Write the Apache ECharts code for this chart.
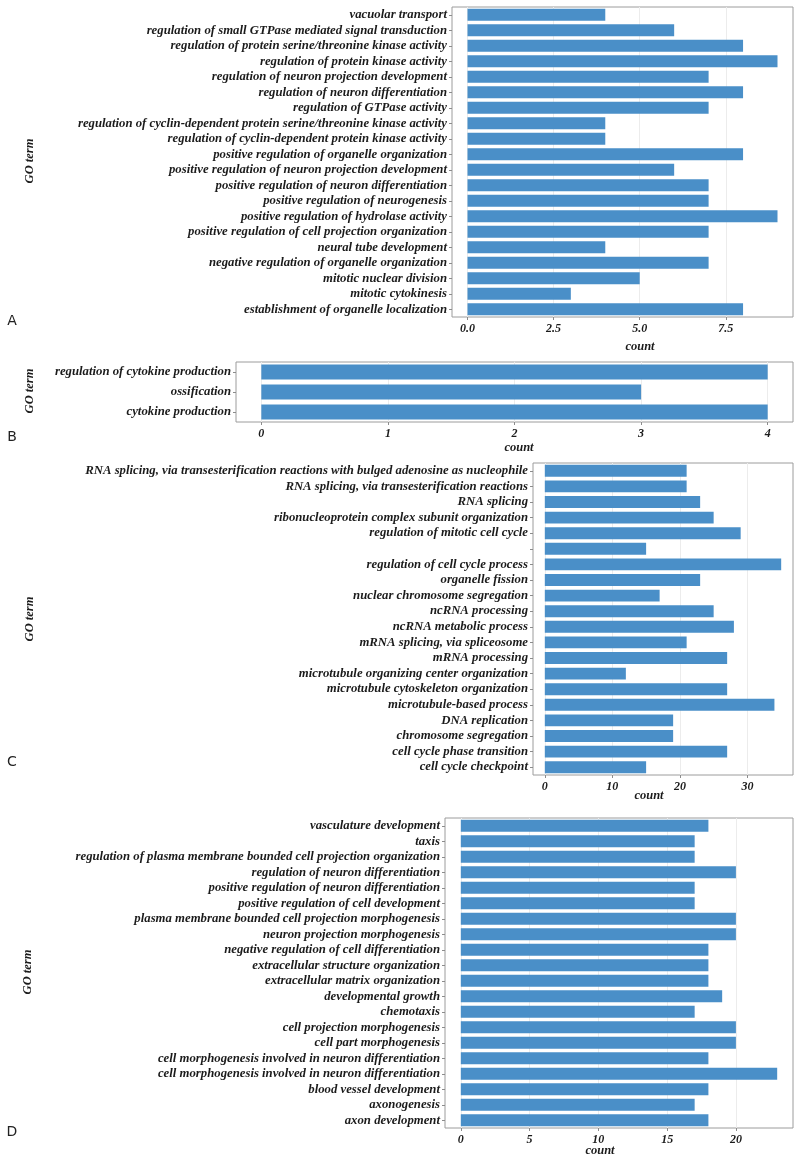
<!DOCTYPE html>
<html><head><meta charset="utf-8">
<script src="https://cdn.jsdelivr.net/npm/echarts@6/dist/echarts.min.js"></script>
<style>html,body{margin:0;padding:0;background:#fff}#c{width:800px;height:1155px}</style>
</head><body><div id="c"></div>
<script>
// ---------- data ----------
const termsA = [
  'vacuolar transport',
  'regulation of small GTPase mediated signal transduction',
  'regulation of protein serine/threonine kinase activity',
  'regulation of protein kinase activity',
  'regulation of neuron projection development',
  'regulation of neuron differentiation',
  'regulation of GTPase activity',
  'regulation of cyclin-dependent protein serine/threonine kinase activity',
  'regulation of cyclin-dependent protein kinase activity',
  'positive regulation of organelle organization',
  'positive regulation of neuron projection development',
  'positive regulation of neuron differentiation',
  'positive regulation of neurogenesis',
  'positive regulation of hydrolase activity',
  'positive regulation of cell projection organization',
  'neural tube development',
  'negative regulation of organelle organization',
  'mitotic nuclear division',
  'mitotic cytokinesis',
  'establishment of organelle localization'
];
const countsA = [4, 6, 8, 9, 7, 8, 7, 4, 4, 8, 6, 7, 7, 9, 7, 4, 7, 5, 3, 8];
const ticksA = [0, 2.5, 5, 7.5];

const termsB = ['regulation of cytokine production', 'ossification', 'cytokine production'];
const countsB = [4, 3, 4];
const ticksB = [0, 1, 2, 3, 4];

const termsC = [
  'RNA splicing, via transesterification reactions with bulged adenosine as nucleophile',
  'RNA splicing, via transesterification reactions',
  'RNA splicing',
  'ribonucleoprotein complex subunit organization',
  'regulation of mitotic cell cycle',
  '',
  'regulation of cell cycle process',
  'organelle fission',
  'nuclear chromosome segregation',
  'ncRNA processing',
  'ncRNA metabolic process',
  'mRNA splicing, via spliceosome',
  'mRNA processing',
  'microtubule organizing center organization',
  'microtubule cytoskeleton organization',
  'microtubule-based process',
  'DNA replication',
  'chromosome segregation',
  'cell cycle phase transition',
  'cell cycle checkpoint'
];
const countsC = [21, 21, 23, 25, 29, 15, 35, 23, 17, 25, 28, 21, 27, 12, 27, 34, 19, 19, 27, 15];
const ticksC = [0, 10, 20, 30];

const termsD = [
  'vasculature development',
  'taxis',
  'regulation of plasma membrane bounded cell projection organization',
  'regulation of neuron differentiation',
  'positive regulation of neuron differentiation',
  'positive regulation of cell development',
  'plasma membrane bounded cell projection morphogenesis',
  'neuron projection morphogenesis',
  'negative regulation of cell differentiation',
  'extracellular structure organization',
  'extracellular matrix organization',
  'developmental growth',
  'chemotaxis',
  'cell projection morphogenesis',
  'cell part morphogenesis',
  'cell morphogenesis involved in neuron differentiation',
  'cell morphogenesis involved in neuron differentiation',
  'blood vessel development',
  'axonogenesis',
  'axon development'
];
const countsD = [18, 17, 17, 20, 17, 17, 20, 20, 18, 18, 18, 19, 17, 20, 20, 18, 23, 18, 17, 18];
const ticksD = [0, 5, 10, 15, 20];

const panelLetters = ['A', 'B', 'C', 'D'];
const yTitle = 'GO term';
const xTitle = 'count';

// ---------- layout ----------
const layout = [
  { terms: termsA, counts: countsA, ticks: ticksA, dec: 1, grid: {left: 452, top: 7, width: 341, height: 310}, range: [-0.45, 9.45], letter: [12, 321], go: [30, 161], cnt: [640, 347] },
  { terms: termsB, counts: countsB, ticks: ticksB, dec: 0, grid: {left: 236, top: 362, width: 557, height: 60}, range: [-0.2, 4.2], letter: [12, 437], go: [30, 391], cnt: [519, 448] },
  { terms: termsC, counts: countsC, ticks: ticksC, dec: 0, grid: {left: 533, top: 463, width: 260, height: 312}, range: [-1.75, 36.75], letter: [12, 762], go: [30, 619], cnt: [649, 796] },
  { terms: termsD, counts: countsD, ticks: ticksD, dec: 0, grid: {left: 445, top: 818, width: 348, height: 310}, range: [-1.15, 24.15], letter: [12, 1132], go: [28, 972], cnt: [600, 1151] }
];

const serif = '"Liberation Serif", "Times New Roman", serif';
const txtColor = '#1b1b1b';
const barColor = '#4a8fc8';

const grids = [], xAxes = [], yAxes = [], series = [], graphics = [];
layout.forEach((p, i) => {
  grids.push(Object.assign({ show: true, borderColor: '#9c9c9c', borderWidth: 1, backgroundColor: '#fff', outerBoundsMode: 'none', containLabel: false }, p.grid));
  xAxes.push({
    type: 'value', gridIndex: i, min: p.range[0], max: p.range[1],
    axisLine: { show: false, onZero: false },
    axisTick: { show: true, length: 3, lineStyle: { color: '#8c8c8c' }, customValues: p.ticks },
    axisLabel: { show: true, margin: 6, customValues: p.ticks, formatter: v => Number(v).toFixed(p.dec),
      fontFamily: serif, fontStyle: 'italic', fontWeight: 'bold', fontSize: 12, color: txtColor },
    splitLine: { show: true, lineStyle: { color: '#ececec', width: 1 } }
  });
  yAxes.push({
    type: 'category', gridIndex: i, inverse: true,
    data: p.terms.map((_, k) => String(k)),
    axisLine: { show: false, onZero: false },
    axisTick: { show: true, alignWithLabel: true, length: 3, lineStyle: { color: '#8c8c8c' } },
    axisLabel: { show: true, interval: 0, margin: 5, formatter: v => p.terms[+v],
      fontFamily: serif, fontStyle: 'italic', fontWeight: 'bold', fontSize: 12.75, color: txtColor },
    splitLine: { show: false }
  });
  series.push({
    type: 'bar', xAxisIndex: i, yAxisIndex: i, data: p.counts,
    barCategoryGap: '24%', itemStyle: { color: barColor }, silent: true
  });
  graphics.push({ type: 'text', x: p.letter[0], y: p.letter[1],
    style: { text: panelLetters[i], font: '14px "DejaVu Sans", sans-serif', fill: '#222', textAlign: 'center', textVerticalAlign: 'middle' } });
  graphics.push({ type: 'text', x: p.go[0], y: p.go[1], rotation: Math.PI / 2,
    style: { text: yTitle, font: 'italic bold 12.5px ' + serif, fill: txtColor, textAlign: 'center', textVerticalAlign: 'middle' } });
  graphics.push({ type: 'text', x: p.cnt[0], y: p.cnt[1],
    style: { text: xTitle, font: 'italic bold 12.5px ' + serif, fill: txtColor, textAlign: 'center', textVerticalAlign: 'middle' } });
});

const chart = echarts.init(document.getElementById('c'), null, { renderer: 'canvas' });
chart.setOption({
  animation: false,
  backgroundColor: '#fff',
  grid: grids, xAxis: xAxes, yAxis: yAxes, series: series,
  graphic: graphics
});
</script>
</body></html>
